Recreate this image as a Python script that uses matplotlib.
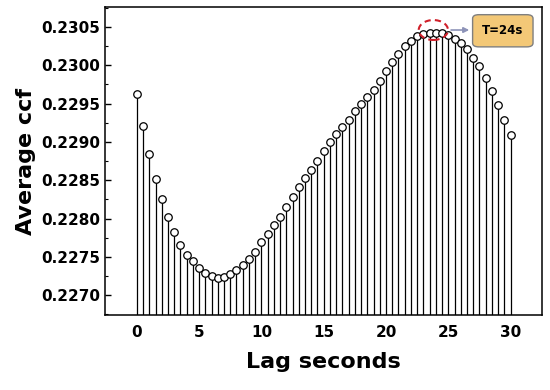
import matplotlib
matplotlib.use("Agg")
import matplotlib.pyplot as plt
from matplotlib.patches import Ellipse, FancyBboxPatch
from matplotlib.ticker import MultipleLocator
import numpy as np

plt.rcParams['font.family'] = ['DejaVu Sans']

lag = [i * 0.5 for i in range(61)]
ccf = [0.22962, 0.22921, 0.22884, 0.22852, 0.22825, 0.22802, 0.22782, 0.22766,
       0.22752, 0.22744, 0.22736, 0.22729, 0.22725, 0.22723, 0.22724, 0.22727,
       0.22733, 0.22739, 0.22747, 0.22757, 0.22769, 0.22780, 0.22791, 0.22802,
       0.22815, 0.22828, 0.22841, 0.22853, 0.22864, 0.22875, 0.22888, 0.22900,
       0.22910, 0.22920, 0.22929, 0.22940, 0.22949, 0.22958, 0.22968, 0.22980,
       0.22992, 0.23004, 0.23015, 0.23025, 0.23032, 0.23038, 0.23041, 0.23042,
       0.23042, 0.23042, 0.23039, 0.23034, 0.23029, 0.23021, 0.23010, 0.22999,
       0.22984, 0.22966, 0.22948, 0.22929, 0.22909]
xticks = [0, 5, 10, 15, 20, 25, 30]
yticks = [0.2270, 0.2275, 0.2280, 0.2285, 0.2290, 0.2295, 0.2300, 0.2305]
peak_lag = 24
peak_label = "T=24s"

fig = plt.figure(figsize=(5.5, 3.9), dpi=100)
ax = fig.add_axes([0.191, 0.192, 0.794, 0.790])
ymin, ymax = 0.22674, 0.23076
ax.set_xlim(-2.55, 32.5)
ax.set_ylim(ymin, ymax)

ax.vlines(lag, ymin, ccf, color='black', linewidth=0.9, zorder=2)
ax.plot(lag, ccf, linestyle='none', marker='o', markersize=5.4,
        markerfacecolor='white', markeredgecolor='black', markeredgewidth=0.9, zorder=3)

ax.set_xticks(xticks)
ax.set_xticklabels([str(t) for t in xticks])
ax.set_yticks(yticks)
ax.set_yticklabels([f"{t:.4f}" for t in yticks])
ax.yaxis.set_minor_locator(MultipleLocator(0.00025))
ax.tick_params(axis='both', which='major', direction='in', length=4, width=1,
               labelsize=11)
ax.tick_params(axis='y', which='minor', direction='in', length=2.5, width=0.8)
ax.tick_params(axis='x', which='major', length=0, pad=7)
for lbl in ax.get_xticklabels() + ax.get_yticklabels():
    lbl.set_fontweight('bold')
for s in ax.spines.values():
    s.set_linewidth(1.1)

ax.set_xlabel("Lag seconds", fontsize=16, fontweight='bold', labelpad=9)
ax.set_ylabel("Average ccf", fontsize=16, fontweight='bold', labelpad=4)

# annotation
ell = Ellipse((23.8, 0.23046), width=2.35, height=0.00026, fill=False,
              edgecolor='#d0202a', linestyle=(0, (3, 2)), linewidth=1.5, zorder=4)
ax.add_patch(ell)
ax.annotate("", xy=(26.9, 0.23046), xytext=(25.0, 0.23046),
            arrowprops=dict(arrowstyle='-|>', color='#8d93b8', lw=1.2,
                            mutation_scale=8), zorder=4)
box = FancyBboxPatch((26.95, 0.23024), 4.85, 0.00042,
                     boxstyle="round,pad=0,rounding_size=0.5",
                     mutation_aspect=0.0001,
                     facecolor='#f3c877', edgecolor='#7f7f7f', linewidth=1, zorder=5)
ax.add_patch(box)
ax.text(29.37, 0.23045, peak_label, ha='center', va='center', fontsize=8.5,
        fontweight='bold', zorder=6)

fig.savefig("out.png", dpi=100)
